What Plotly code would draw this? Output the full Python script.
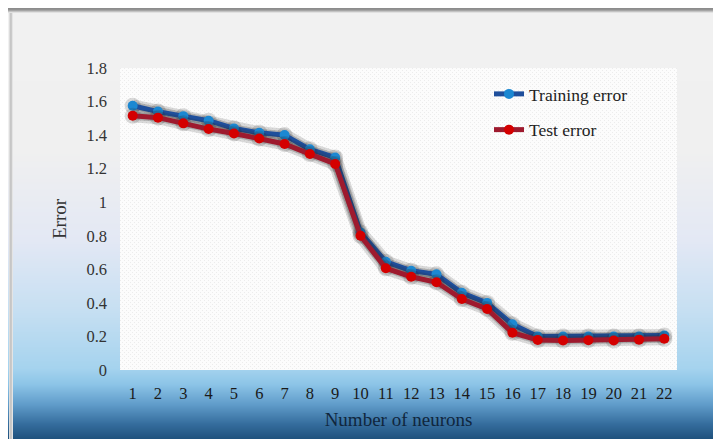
import base64
import struct
import zlib

import plotly.graph_objects as go

# ---------------- data ----------------
neurons = [1, 2, 3, 4, 5, 6, 7, 8, 9, 10, 11, 12, 13, 14, 15, 16, 17, 18, 19, 20, 21, 22]
training_error = [1.575, 1.540, 1.513, 1.486, 1.440, 1.414, 1.400, 1.315, 1.267, 0.820, 0.645,
                  0.592, 0.570, 0.460, 0.400, 0.272, 0.200, 0.200, 0.200, 0.200, 0.200, 0.205]
test_error = [1.515, 1.504, 1.470, 1.436, 1.410, 1.380, 1.347, 1.287, 1.228, 0.800, 0.606,
              0.556, 0.523, 0.423, 0.364, 0.222, 0.179, 0.176, 0.178, 0.176, 0.181, 0.186]
y_tickvals = [0, 0.2, 0.4, 0.6, 0.8, 1.0, 1.2, 1.4, 1.6, 1.8]
y_ticktext = ["0", "0.2", "0.4", "0.6", "0.8", "1", "1.2", "1.4", "1.6", "1.8"]
x_ticktext = [str(n) for n in neurons]

# ---------------- geometry ----------------
OFF = 8                      # page body margin
W, H = 721 - OFF, 439 - OFF  # figure size
# plot area in reference (page) pixels
RPL, RPR, RPT, RPB = 120, 677, 68, 370
PL, PR, PT, PB = RPL - OFF, RPR - OFF, RPT - OFF, RPB - OFF
PW, PH = PR - PL, PB - PT


# ---------------- background image (decor) ----------------
def lerp(a, b, t):
    return tuple(int(round(a[i] + (b[i] - a[i]) * t)) for i in range(3))


stops = [
    (12, (241, 241, 241)),
    (150, (240, 240, 240)),
    (240, (227, 232, 244)),
    (310, (198, 223, 242)),
    (368, (165, 211, 238)),
    (384, (140, 196, 231)),
    (404, (96, 156, 202)),
    (424, (52, 108, 156)),
    (439, (30, 80, 124)),
]


def grad(y):
    if y <= stops[0][0]:
        return stops[0][1]
    for (y0, c0), (y1, c1) in zip(stops, stops[1:]):
        if y0 <= y <= y1:
            return lerp(c0, c1, (y - y0) / (y1 - y0))
    return stops[-1][1]


top_band = {4: 225, 5: 192, 6: 162, 7: 146, 8: 140, 9: 146, 10: 165, 11: 195, 12: 225}
left_band = {9: 220, 10: 198, 11: 202, 12: 228}

raw = bytearray()
for fy in range(H):
    raw.append(0)
    y = fy + OFF
    g = grad(y)
    for fx in range(W):
        x = fx + OFF
        if y in top_band:
            v = top_band[y]
            c = (v, v, v)
        elif x in left_band:
            v = left_band[x]
            c = (v, v, v)
        elif RPL <= x < RPR and RPT <= y < RPB:
            if (x % 4 == 0 and y % 4 == 0) or (x % 4 == 2 and y % 4 == 2):
                c = (236, 236, 236)
            else:
                c = (252, 252, 252)
        else:
            c = g
        raw.extend(c)


def chunk(tag, data):
    return struct.pack(">I", len(data)) + tag + data + struct.pack(">I", zlib.crc32(tag + data) & 0xFFFFFFFF)


png = b"\x89PNG\r\n\x1a\n" + chunk(b"IHDR", struct.pack(">IIBBBBB", W, H, 8, 2, 0, 0, 0)) \
    + chunk(b"IDAT", zlib.compress(bytes(raw), 9)) + chunk(b"IEND", b"")
bg_uri = "data:image/png;base64," + base64.b64encode(png).decode()

# ---------------- figure ----------------
fig = go.Figure()

SERIF = "Liberation Serif, Times New Roman, serif"

for series in (training_error, test_error):
    # soft shadow under each line
    fig.add_trace(go.Scatter(x=neurons, y=series, mode="lines+markers", showlegend=False,
                             hoverinfo="skip",
                             line=dict(color="rgba(40,40,40,0.16)", width=13),
                             marker=dict(size=16, color="rgba(40,40,40,0.16)")))
    fig.add_trace(go.Scatter(x=neurons, y=series, mode="lines", showlegend=False,
                             hoverinfo="skip",
                             line=dict(color="rgba(40,40,40,0.24)", width=8)))
    if series is training_error:
        fig.add_trace(go.Scatter(x=neurons, y=training_error, mode="lines+markers",
                                 name="Training error", legendgroup="train",
                                 line=dict(color="#1f4f9c", width=5),
                                 marker=dict(size=10, color="#1c88d2")))
    else:
        fig.add_trace(go.Scatter(x=neurons, y=test_error, mode="lines+markers",
                                 name="Test error", legendgroup="test",
                                 line=dict(color="#9e1a2e", width=5),
                                 marker=dict(size=10, color="#d40000")))

fig.update_layout(
    width=W, height=H,
    margin=dict(l=PL, r=W - PR, t=PT, b=H - PB, pad=0),
    paper_bgcolor="white",
    plot_bgcolor="rgba(0,0,0,0)",
    font=dict(family=SERIF, size=16, color="#333333"),
    images=[dict(source=bg_uri, xref="paper", yref="paper",
                 x=-PL / PW, y=PB / PH, sizex=W / PW, sizey=H / PH,
                 xanchor="left", yanchor="top", sizing="stretch", layer="below")],
    legend=dict(x=(489 - RPL) / PW, y=(RPB - 76) / PH, xanchor="left", yanchor="top",
                bgcolor="rgba(0,0,0,0)", font=dict(family=SERIF, size=17.5, color="#222222"),
                traceorder="grouped", tracegroupgap=10),
    showlegend=True,
)

fig.update_xaxes(
    range=[0.5, 22.5], tickmode="array", tickvals=neurons, ticktext=x_ticktext,
    showgrid=False, zeroline=False, showline=False, ticks="",
    ticklabelstandoff=11,
    tickfont=dict(family=SERIF, size=16.5, color="#1a1a1a"),
    title=dict(text="Number of neurons", standoff=11,
               font=dict(family=SERIF, size=19, color="#10263d")),
)
fig.update_yaxes(
    range=[0, 1.8], tickmode="array", tickvals=y_tickvals, ticktext=y_ticktext,
    showgrid=False, zeroline=False, showline=False, ticks="",
    ticklabelstandoff=12,
    tickfont=dict(family=SERIF, size=16.5, color="#333333"),
    title=dict(text="Error", standoff=14,
               font=dict(family=SERIF, size=19, color="#333333")),
)

fig.write_html("out.html")
